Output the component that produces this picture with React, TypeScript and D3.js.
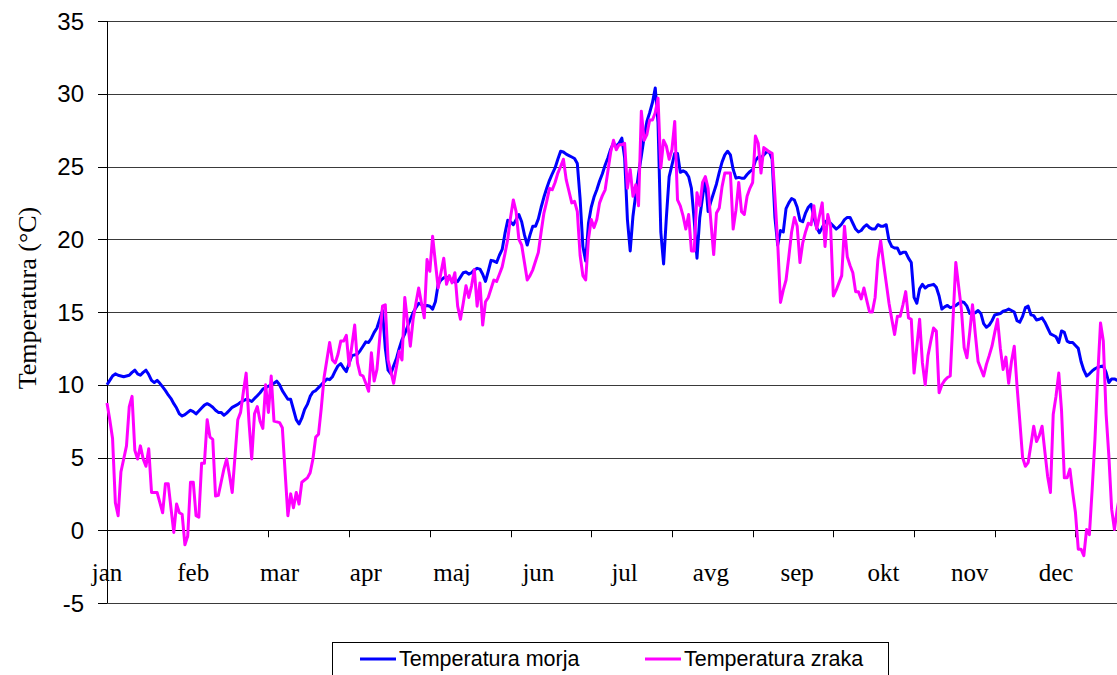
import * as d3 from 'd3';

const months = ['jan', 'feb', 'mar', 'apr', 'maj', 'jun', 'jul', 'avg', 'sep', 'okt', 'nov', 'dec'];
const yTicks = [-5, 0, 5, 10, 15, 20, 25, 30, 35];
const seriesNames = ['Temperatura morja', 'Temperatura zraka'];
const seriesColors = ['#0000ff', '#ff00ff'];

// dnevne vrednosti, 1. jan - 31. dec
const seaTemp = [
  10.0, 10.3, 10.6, 10.75, 10.65, 10.6, 10.55, 10.6, 10.65, 10.85,
  11.0, 10.75, 10.65, 10.85, 11.0, 10.7, 10.3, 10.15, 10.3, 10.1,
  9.85, 9.6, 9.3, 9.05, 8.7, 8.4, 8.0, 7.85, 7.95, 8.1,
  8.25, 8.15, 8.0, 8.2, 8.4, 8.6, 8.7, 8.6, 8.45, 8.25,
  8.1, 8.1, 7.9, 8.05, 8.25, 8.45, 8.55, 8.65, 8.8, 8.9,
  9.0, 8.95, 8.85, 9.05, 9.25, 9.45, 9.7, 9.8, 9.9, 10.0,
  10.1, 10.25, 10.0, 9.6, 9.3, 9.0, 9.0, 8.3, 7.6, 7.3,
  7.7, 8.3, 8.65, 9.2, 9.5, 9.6, 9.8, 10.0, 10.2, 10.4,
  10.35, 10.55, 10.95, 11.3, 11.45, 11.15, 10.9, 11.5, 12.0, 12.05,
  12.1, 12.35, 12.65, 12.95, 12.9, 13.2, 13.6, 13.9, 14.5, 15.1,
  12.5, 11.0, 10.75, 11.3, 11.8, 12.5, 13.1, 13.5, 14.0, 14.5,
  14.95, 15.3, 15.6, 15.5, 15.4, 15.45, 15.4, 15.2, 15.7, 16.9,
  17.2, 17.35, 17.4, 17.3, 17.2, 17.05, 17.1, 17.4, 17.7, 17.75,
  17.6, 17.7, 17.9, 18.0, 17.95, 17.6, 17.1, 17.8, 18.55, 18.5,
  18.4, 18.9, 19.3, 20.4, 21.3, 21.2, 21.0, 21.35, 21.7, 21.2,
  20.3, 19.6, 20.3, 20.9, 20.9, 21.4, 22.2, 22.9, 23.5, 24.05,
  24.5, 24.9, 25.5, 26.05, 26.0, 25.85, 25.75, 25.65, 25.55, 25.2,
  22.8, 19.5, 18.5, 21.1, 22.2, 22.9, 23.4, 24.0, 24.5, 25.1,
  25.6, 26.2, 26.6, 26.4, 26.6, 26.95, 25.6, 21.35, 19.2, 21.6,
  23.1, 24.5, 25.7, 27.0, 28.1, 28.7, 29.4, 30.4, 28.0, 20.5,
  18.3, 21.5, 24.3, 25.1, 25.9, 25.9, 24.6, 24.7, 24.6, 24.3,
  23.5, 21.3, 18.7, 21.5, 22.9, 24.2, 21.9, 22.6, 23.2, 23.8,
  24.6, 25.3, 25.8, 26.05, 25.8, 24.8, 24.2, 24.25, 24.2, 24.2,
  24.45, 24.65, 24.8, 25.4, 25.65, 25.6, 25.8, 26.0, 26.0, 25.5,
  21.5, 19.6, 20.6, 20.5, 22.1, 22.5, 22.8, 22.7, 22.2, 21.3,
  21.2, 21.8, 22.2, 22.4, 21.5, 20.8, 20.45, 20.8, 21.2, 21.3,
  21.1, 20.9, 20.7, 20.85, 21.05, 21.35, 21.5, 21.5, 21.1, 20.7,
  20.5, 20.6, 20.85, 21.0, 20.8, 20.7, 20.7, 21.0, 20.9, 20.9,
  21.0, 19.9, 19.5, 19.4, 19.4, 19.0, 19.1, 19.1, 18.7, 18.4,
  16.0, 15.6, 16.6, 16.9, 16.65, 16.8, 16.85, 16.9, 16.7, 16.1,
  15.2, 15.35, 15.45, 15.3, 15.35, 15.45, 15.6, 15.7, 15.65, 15.4,
  14.9, 14.92, 14.95, 15.1, 14.9, 14.2, 13.95, 14.1, 14.4, 14.8,
  14.85, 14.9, 15.05, 15.1, 15.2, 15.1, 15.0, 14.4, 14.3, 14.7,
  15.3, 15.4, 14.8, 14.75, 14.45, 14.5, 14.6, 14.3, 13.9, 13.5,
  13.4, 13.3, 12.9, 13.7, 13.6, 13.0, 12.9, 12.9, 12.7, 12.5,
  11.6, 11.0, 10.6, 10.75, 10.95, 11.1, 11.2, 11.25, 11.3, 10.85,
  10.15, 10.4, 10.4, 10.3, 10.3,
];

const airTemp = [
  8.75, 7.6, 6.3, 1.9, 1.0, 4.0, 4.9, 5.8, 8.5, 9.2,
  5.5, 4.9, 5.8, 4.9, 4.4, 5.6, 2.6, 2.6, 2.6, 1.9,
  1.2, 3.2, 3.2, 1.5, -0.15, 1.8, 1.2, 1.1, -1.0, -0.4,
  3.3, 3.3, 1.0, 0.9, 4.6, 4.6, 7.6, 6.4, 6.25, 2.35,
  2.4, 3.3, 4.2, 4.9, 3.8, 2.6, 5.1, 7.6, 8.1, 9.5,
  10.8, 7.5, 4.9, 8.0, 8.5, 7.5, 7.0, 10.0, 8.1, 10.6,
  7.5, 7.45, 7.4, 7.05, 4.0, 1.0, 2.5, 1.55, 2.6, 1.8,
  3.3, 3.45, 3.6, 3.95, 4.9, 6.4, 6.6, 8.4, 10.5, 11.7,
  12.9, 11.7, 11.5, 12.1, 13.0, 13.0, 13.4, 11.3, 12.7, 14.1,
  11.5, 10.7, 10.6, 10.1, 9.55, 12.2, 10.25, 11.05, 13.2, 15.4,
  15.5, 11.7, 10.9, 10.1, 11.2, 12.3, 11.7, 16.0, 14.3, 12.65,
  14.5, 15.6, 16.65, 15.6, 14.6, 18.6, 17.8, 20.2, 18.4, 16.65,
  17.7, 18.7, 16.9, 17.5, 17.0, 17.7, 15.4, 14.5, 15.6, 16.8,
  16.0, 16.8, 17.9, 15.4, 17.0, 14.1, 15.7, 16.0, 16.6, 17.2,
  17.1, 17.6, 18.1, 19.0, 20.0, 21.5, 22.7, 21.9, 20.0, 19.6,
  18.4, 17.2, 17.5, 17.9, 18.5, 19.1, 20.5, 21.8, 22.6, 23.5,
  23.4, 23.9, 24.55, 25.0, 25.5, 24.1, 23.3, 22.5, 22.6, 21.9,
  18.9, 17.5, 17.2, 20.0, 21.35, 20.8, 21.35, 22.5, 23.0, 23.4,
  24.7, 26.0, 26.8, 26.15, 26.5, 26.5, 26.6, 23.5, 24.8, 22.95,
  23.75, 22.3, 28.8, 26.8, 27.2, 28.2, 28.2, 28.7, 29.7, 24.9,
  26.8, 26.4, 25.5, 26.15, 28.1, 22.7, 22.3, 21.6, 20.7, 21.7,
  19.2, 19.2, 23.2, 22.3, 23.9, 24.3, 23.5, 21.2, 18.95, 21.8,
  22.15, 23.6, 24.55, 24.55, 24.55, 20.7, 22.0, 23.9, 21.9, 21.7,
  22.95, 23.5, 23.9, 27.1, 26.6, 24.55, 26.3, 26.15, 26.0, 25.9,
  22.95, 19.75, 15.65, 16.5, 17.2, 18.8, 20.5, 21.5, 20.9, 18.4,
  19.75, 20.5, 21.1, 21.0, 22.3, 20.7, 21.6, 22.5, 19.5, 21.7,
  20.9, 16.1, 16.5, 17.0, 17.5, 20.9, 18.8, 18.2, 17.7, 16.4,
  16.4, 15.9, 16.65, 15.8, 15.0, 15.0, 16.0, 18.6, 19.9, 18.4,
  17.0, 15.6, 14.5, 13.45, 14.7, 14.7, 15.5, 16.4, 14.6, 14.5,
  10.8, 12.6, 14.5, 11.5, 10.0, 12.0, 13.0, 13.9, 13.7, 9.45,
  10.0, 10.3, 10.5, 10.6, 14.5, 18.4, 16.8, 15.2, 12.55, 11.85,
  13.6, 15.5, 13.5, 11.6, 11.1, 10.6, 11.4, 12.0, 12.65, 13.6,
  14.5, 12.5, 11.05, 11.9, 10.1, 11.6, 12.65, 9.9, 7.5, 5.0,
  4.4, 4.65, 5.9, 7.15, 6.1, 6.5, 7.15, 5.4, 3.7, 2.6,
  7.95, 9.2, 10.8, 8.2, 3.6, 3.6, 4.2, 2.6, 1.2, -1.3,
  -1.3, -1.75, 0.05, -0.3, 2.8, 6.25, 10.6, 14.25, 13.0, 8.0,
  5.1, 1.45, 0.05, 1.45, 2.5,
];

const W = 1117;
const H = 675;
const serif = '"Liberation Serif", "Times New Roman", serif';
const sans = '"Liberation Sans", Arial, sans-serif';

export default function App() {
  const x = d3.scaleLinear().domain([0, 364]).range([107, 1120]);
  const y = d3.scaleLinear().domain([-5, 35]).range([603, 21]);

  const line = d3.line<number>()
    .x((_, i) => x(i))
    .y(d => y(d));

  const xTicks = d3.range(0, 365, 29);
  const labelPos = months.map((_, i) => i * 31);

  return (
    <svg width={W} height={H} style={{ position: 'absolute', left: 0, top: 0, background: '#fff' }}>
      {/* mreza */}
      {yTicks.map(t => (
        <line key={'g' + t} x1={x(0)} x2={W} y1={Math.round(y(t)) + 0.5} y2={Math.round(y(t)) + 0.5}
          stroke={t === 0 ? '#000' : '#3a3a3a'} strokeWidth={1} />
      ))}
      {/* y os */}
      <line x1={x(0) + 0.5} x2={x(0) + 0.5} y1={y(35)} y2={y(-5)} stroke="#000" />
      {yTicks.map(t => (
        <g key={'t' + t}>
          <line x1={x(0) - 9} x2={x(0)} y1={Math.round(y(t)) + 0.5} y2={Math.round(y(t)) + 0.5} stroke="#000" />
          <text x={84} y={y(t)} textAnchor="end" dominantBaseline="central"
            fontFamily={sans} fontSize={24} fill="#000">{t}</text>
        </g>
      ))}
      {/* x os */}
      {xTicks.map(t => (
        <line key={'x' + t} x1={Math.round(x(t)) + 0.5} x2={Math.round(x(t)) + 0.5}
          y1={y(0)} y2={y(0) + 7} stroke="#000" />
      ))}
      {labelPos.map((p, i) => (
        <text key={months[i]} x={x(p)} y={581} textAnchor="middle"
          fontFamily={serif} fontSize={25} fill="#000">{months[i]}</text>
      ))}
      <text transform={`translate(36,${298}) rotate(-90)`} textAnchor="middle"
        fontFamily={serif} fontSize={26} fill="#000">Temperatura (°C)</text>

      {/* serije */}
      <path d={line(seaTemp) ?? ''} fill="none" stroke={seriesColors[0]} strokeWidth={3} strokeLinejoin="round" />
      <path d={line(airTemp) ?? ''} fill="none" stroke={seriesColors[1]} strokeWidth={3} strokeLinejoin="round" />

      {/* legenda */}
      <rect x={332.5} y={642.5} width={556} height={50} fill="#fff" stroke="#000" />
      {seriesNames.map((n, i) => {
        const lx = i === 0 ? 360 : 645;
        return (
          <g key={n}>
            <line x1={lx} x2={lx + 36} y1={659} y2={659} stroke={seriesColors[i]} strokeWidth={3} />
            <text x={lx + 39} y={659} dominantBaseline="central" fontFamily={sans} fontSize={21.5} fill="#000">{n}</text>
          </g>
        );
      })}
    </svg>
  );
}
